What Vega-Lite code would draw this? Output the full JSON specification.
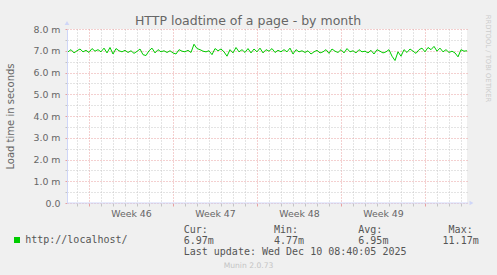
{
  "$schema": "https://vega.github.io/schema/vega-lite/v6.json",
  "width": 400,
  "height": 174,
  "autosize": {"type": "none"},
  "padding": {"left": 67, "top": 29, "right": 30, "bottom": 72},
  "background": "#f0f0f0",
  "config": {
    "view": {"fill": "#ffffff", "stroke": null},
    "font": "DejaVu Sans",
    "axis": {"labelFont": "DejaVu Sans", "titleFont": "DejaVu Sans", "titleFontWeight": "normal"}
  },
  "title": {
    "text": "HTTP loadtime of a page - by month",
    "font": "DejaVu Sans",
    "fontSize": 12.5,
    "fontWeight": "normal",
    "color": "#666666",
    "anchor": "middle",
    "frame": "group",
    "dx": -19,
    "baseline": "alphabetic",
    "offset": -23
  },
  "data": {"values": [
    {"d": -1.75, "load_ms": 6.95}, {"d": -1.5, "load_ms": 7.05}, {"d": -1.25, "load_ms": 6.9}, {"d": -1.0, "load_ms": 7.0},
    {"d": -0.75, "load_ms": 7.08}, {"d": -0.5, "load_ms": 6.95}, {"d": -0.25, "load_ms": 7.02}, {"d": 0.0, "load_ms": 6.92},
    {"d": 0.25, "load_ms": 7.1}, {"d": 0.5, "load_ms": 6.98}, {"d": 0.75, "load_ms": 7.05}, {"d": 1.0, "load_ms": 6.95},
    {"d": 1.25, "load_ms": 7.12}, {"d": 1.5, "load_ms": 6.9}, {"d": 1.75, "load_ms": 7.15}, {"d": 2.0, "load_ms": 6.85},
    {"d": 2.25, "load_ms": 7.1}, {"d": 2.5, "load_ms": 7.0}, {"d": 2.75, "load_ms": 6.95}, {"d": 3.0, "load_ms": 7.02},
    {"d": 3.25, "load_ms": 6.92}, {"d": 3.5, "load_ms": 7.0}, {"d": 3.75, "load_ms": 6.88}, {"d": 4.0, "load_ms": 6.97},
    {"d": 4.25, "load_ms": 7.08}, {"d": 4.5, "load_ms": 6.82}, {"d": 4.75, "load_ms": 6.78}, {"d": 5.0, "load_ms": 7.0},
    {"d": 5.25, "load_ms": 7.12}, {"d": 5.5, "load_ms": 6.9}, {"d": 5.75, "load_ms": 7.05}, {"d": 6.0, "load_ms": 6.95},
    {"d": 6.25, "load_ms": 7.0}, {"d": 6.5, "load_ms": 6.92}, {"d": 6.75, "load_ms": 7.0}, {"d": 7.0, "load_ms": 6.9},
    {"d": 7.25, "load_ms": 6.85}, {"d": 7.5, "load_ms": 7.05}, {"d": 7.75, "load_ms": 6.98}, {"d": 8.0, "load_ms": 6.95},
    {"d": 8.25, "load_ms": 7.02}, {"d": 8.5, "load_ms": 6.92}, {"d": 8.75, "load_ms": 7.3}, {"d": 9.0, "load_ms": 7.1},
    {"d": 9.25, "load_ms": 7.05}, {"d": 9.5, "load_ms": 6.98}, {"d": 9.75, "load_ms": 6.95}, {"d": 10.0, "load_ms": 7.0},
    {"d": 10.25, "load_ms": 6.82}, {"d": 10.5, "load_ms": 7.1}, {"d": 10.75, "load_ms": 7.0}, {"d": 11.0, "load_ms": 7.08},
    {"d": 11.25, "load_ms": 6.95}, {"d": 11.5, "load_ms": 6.75}, {"d": 11.75, "load_ms": 7.05}, {"d": 12.0, "load_ms": 6.9},
    {"d": 12.25, "load_ms": 7.15}, {"d": 12.5, "load_ms": 6.95}, {"d": 12.75, "load_ms": 7.05}, {"d": 13.0, "load_ms": 6.92},
    {"d": 13.25, "load_ms": 7.1}, {"d": 13.5, "load_ms": 6.9}, {"d": 13.75, "load_ms": 7.08}, {"d": 14.0, "load_ms": 6.95},
    {"d": 14.25, "load_ms": 7.12}, {"d": 14.5, "load_ms": 6.9}, {"d": 14.75, "load_ms": 7.05}, {"d": 15.0, "load_ms": 6.98},
    {"d": 15.25, "load_ms": 7.1}, {"d": 15.5, "load_ms": 6.92}, {"d": 15.75, "load_ms": 7.02}, {"d": 16.0, "load_ms": 6.95},
    {"d": 16.25, "load_ms": 7.05}, {"d": 16.5, "load_ms": 6.95}, {"d": 16.75, "load_ms": 7.12}, {"d": 17.0, "load_ms": 6.85},
    {"d": 17.25, "load_ms": 7.05}, {"d": 17.5, "load_ms": 6.95}, {"d": 17.75, "load_ms": 7.0}, {"d": 18.0, "load_ms": 6.92},
    {"d": 18.25, "load_ms": 7.0}, {"d": 18.5, "load_ms": 6.85}, {"d": 18.75, "load_ms": 6.95}, {"d": 19.0, "load_ms": 7.02},
    {"d": 19.25, "load_ms": 6.9}, {"d": 19.5, "load_ms": 6.95}, {"d": 19.75, "load_ms": 7.05}, {"d": 20.0, "load_ms": 6.88},
    {"d": 20.25, "load_ms": 7.08}, {"d": 20.5, "load_ms": 6.98}, {"d": 20.75, "load_ms": 6.92}, {"d": 21.0, "load_ms": 7.05},
    {"d": 21.25, "load_ms": 6.9}, {"d": 21.5, "load_ms": 7.1}, {"d": 21.75, "load_ms": 6.95}, {"d": 22.0, "load_ms": 7.0},
    {"d": 22.25, "load_ms": 6.9}, {"d": 22.5, "load_ms": 7.05}, {"d": 22.75, "load_ms": 6.95}, {"d": 23.0, "load_ms": 6.98},
    {"d": 23.25, "load_ms": 6.9}, {"d": 23.5, "load_ms": 7.02}, {"d": 23.75, "load_ms": 6.85}, {"d": 24.0, "load_ms": 7.05},
    {"d": 24.25, "load_ms": 6.98}, {"d": 24.5, "load_ms": 6.9}, {"d": 24.75, "load_ms": 6.95}, {"d": 25.0, "load_ms": 7.05},
    {"d": 25.25, "load_ms": 6.75}, {"d": 25.5, "load_ms": 6.55}, {"d": 25.75, "load_ms": 6.95}, {"d": 26.0, "load_ms": 6.75},
    {"d": 26.25, "load_ms": 7.05}, {"d": 26.5, "load_ms": 6.92}, {"d": 26.75, "load_ms": 7.08}, {"d": 27.0, "load_ms": 6.98},
    {"d": 27.25, "load_ms": 6.88}, {"d": 27.5, "load_ms": 7.05}, {"d": 27.75, "load_ms": 7.12}, {"d": 28.0, "load_ms": 6.95},
    {"d": 28.25, "load_ms": 7.15}, {"d": 28.5, "load_ms": 7.05}, {"d": 28.75, "load_ms": 7.2}, {"d": 29.0, "load_ms": 6.98},
    {"d": 29.25, "load_ms": 7.12}, {"d": 29.5, "load_ms": 6.95}, {"d": 29.75, "load_ms": 7.05}, {"d": 30.0, "load_ms": 6.92},
    {"d": 30.25, "load_ms": 6.98}, {"d": 30.5, "load_ms": 6.9}, {"d": 30.75, "load_ms": 6.72}, {"d": 31.0, "load_ms": 7.05},
    {"d": 31.25, "load_ms": 6.98}, {"d": 31.5, "load_ms": 7.0}
  ]},
  "layer": [
    {
      "data": {"values": [{}]},
      "mark": {"type": "rule", "color": "#CFD6F8", "strokeWidth": 1, "clip": false},
      "encoding": {
        "x": {"datum": -1.8333, "type": "quantitative",
          "scale": {"domain": [-1.8333, 31.5], "nice": false, "zero": false},
          "axis": {
          "orient": "bottom", "labels": false, "ticks": false, "grid": false, "domain": false,
          "title": "Munin 2.0.73", "titleFont": "DejaVu Sans", "titleFontSize": 7.6, "titleColor": "#c4c4c4",
          "titleAlign": "center", "titleBaseline": "alphabetic", "titleX": 181, "titleY": 64
        }},
        "x2": {"datum": 31.6},
        "y": {"datum": 0, "type": "quantitative",
          "scale": {"domain": [0, 8], "nice": false, "zero": true},
          "axis": {
          "orient": "right", "labels": false, "ticks": false, "grid": false, "domain": false,
          "title": "RRDTOOL / TOBI OETIKER", "titleFont": "DejaVu Sans", "titleFontSize": 6.8, "titleColor": "#cccccc",
          "titleAngle": 90, "titleAlign": "center", "titleBaseline": "middle", "titleX": 20, "titleY": 29
        }}
      }
    },
    {
      "data": {"values": [{"arrow": "triangle-up", "ax": -1.8333, "ay": 8.276}, {"arrow": "triangle-right", "ax": 31.875, "ay": 0}]},
      "mark": {"type": "point", "filled": true, "color": "#CFD6F8", "opacity": 1, "size": 22, "clip": false},
      "encoding": {
        "x": {"field": "ax", "type": "quantitative", "scale": {"domain": [-1.8333, 31.5], "nice": false, "zero": false}, "axis": null},
        "y": {"field": "ay", "type": "quantitative", "scale": {"domain": [0, 8], "nice": false, "zero": true}, "axis": null},
        "shape": {"field": "arrow", "type": "nominal", "scale": null}
      }
    },
    {
      "mark": {"type": "line", "strokeWidth": 1},
      "encoding": {
        "x": {
          "field": "d", "type": "quantitative",
          "scale": {"domain": [-1.8333, 31.5], "nice": false, "zero": false},
          "axis": {
            "orient": "bottom",
            "values": [-1, 0, 1, 2, 3, 4, 5, 6, 7, 8, 9, 10, 11, 12, 13, 14, 15, 16, 17, 18, 19, 20, 21, 22, 23, 24, 25, 26, 27, 28, 29, 30, 31, 3.5, 10.5, 17.5, 24.5],
            "labelExpr": "datum.value % 1 !== 0 ? 'Week ' + (46 + floor(datum.value / 7)) : ''",
            "labelFontSize": 9.4, "labelColor": "#666666", "labelPadding": 3,
            "labelOverlap": false, "labelFlush": false, "labelBound": false,
            "domain": false,
            "grid": true,
            "tickSize": 3,
            "tickColor": {"condition": {"test": "datum.value % 7 === 0", "value": "#e8a0a0"}, "value": "#c4c4c4"},
            "tickOpacity": {"condition": {"test": "datum.value % 1 !== 0", "value": 0}, "value": 1},
            "gridColor": {"condition": {"test": "datum.value % 7 === 0", "value": "#e8a0a0"}, "value": "#c8c8c8"},
            "gridOpacity": {"condition": {"test": "datum.value % 1 !== 0", "value": 0}, "value": 1},
            "gridDash": [1, 2],
            "title": [
              "Cur:\u00a0\u00a0\u00a0\u00a0\u00a0\u00a0\u00a0\u00a0\u00a0\u00a0\u00a0Min:\u00a0\u00a0\u00a0\u00a0\u00a0\u00a0\u00a0\u00a0\u00a0\u00a0Avg:\u00a0\u00a0\u00a0\u00a0\u00a0\u00a0\u00a0\u00a0\u00a0\u00a0\u00a0Max:",
              "\u00a06.97m\u00a0\u00a0\u00a0\u00a0\u00a0\u00a0\u00a0\u00a0\u00a0\u00a04.77m\u00a0\u00a0\u00a0\u00a0\u00a0\u00a0\u00a0\u00a0\u00a06.95m\u00a0\u00a0\u00a0\u00a0\u00a0\u00a0\u00a0\u00a0\u00a011.17m",
              "\u00a0\u00a0\u00a0\u00a0\u00a0\u00a0\u00a0\u00a0\u00a0\u00a0\u00a0\u00a0\u00a0Last update: Wed Dec 10 08:40:05 2025"
            ],
            "titleFont": "DejaVu Sans Mono", "titleFontSize": 10, "titleColor": "#555555",
            "titleLineHeight": 11, "titleAlign": "left", "titleBaseline": "alphabetic",
            "titleX": 116.2, "titleY": 29
          }
        },
        "y": {
          "field": "load_ms", "type": "quantitative",
          "scale": {"domain": [0, 8], "nice": false, "zero": true},
          "axis": {
            "orient": "left",
            "values": [0, 0.5, 1, 1.5, 2, 2.5, 3, 3.5, 4, 4.5, 5, 5.5, 6, 6.5, 7, 7.5, 8],
            "format": ".1f",
            "labelExpr": "datum.value % 1 !== 0 ? '' : (datum.value === 0 ? datum.label : datum.label + ' m')",
            "labelFontSize": 9.4, "labelColor": "#666666", "labelPadding": 5,
            "labelOverlap": false, "labelFlush": false, "labelBound": false,
            "domainColor": "#CFD6F8",
            "grid": true,
            "tickSize": 2,
            "tickColor": {"condition": {"test": "datum.value % 1 === 0", "value": "#e8a0a0"}, "value": "#c4c4c4"},
            "gridColor": {"condition": {"test": "datum.value % 1 === 0", "value": "#e8a0a0"}, "value": "#c8c8c8"},
            "gridDash": [1, 2],
            "title": "Load time in seconds",
            "titleFontSize": 10, "titleColor": "#666666", "titlePadding": 17
          }
        },
        "color": {
          "datum": "http://localhost/",
          "scale": {"range": ["#00cc00"]},
          "legend": {
            "orient": "none", "legendX": -55, "legendY": 206, "title": null,
            "symbolType": "square", "symbolSize": 36, "symbolFillColor": "#00cc00", "symbolStrokeWidth": 0,
            "labelFont": "DejaVu Sans Mono", "labelFontSize": 10, "labelColor": "#555555", "labelOffset": 3.2,
            "padding": 0
          }
        }
      }
    }
  ],
  "resolve": {"axis": {"x": "independent", "y": "independent"}}
}
